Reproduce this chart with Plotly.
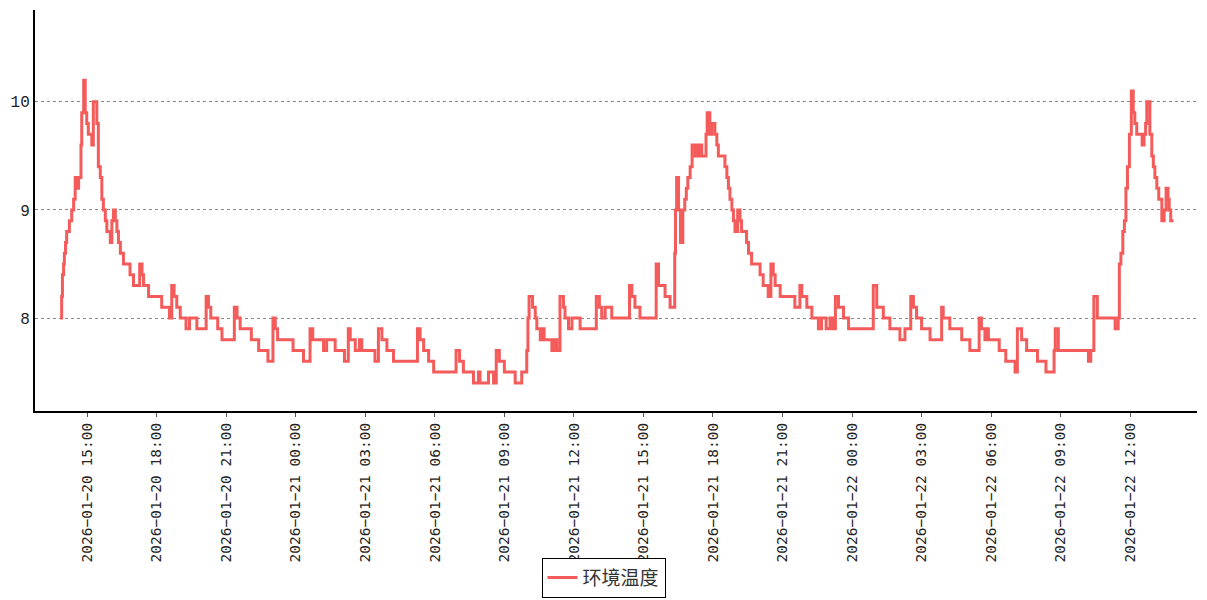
import pandas as pd
import plotly.graph_objects as go

# Time of each change point, minutes relative to 2026-01-20 15:00
offset_min = [
    -70, -66, -64, -61, -59, -56, -53, -46, -40, -35, -31, -27, -22, -16, -14, -9, -5, -1,
    3, 12, 16, 25, 29, 34, 38, 42, 47, 51, 60, 64, 68, 73, 77, 81, 86, 94, 111, 120,
    136, 142, 146, 159, 193, 213, 219, 225, 232, 241, 256, 265, 284, 308, 314, 320,
    338, 349, 381, 388, 396, 425, 444, 468, 481, 487, 493, 533, 560, 577, 584, 612,
    620, 642, 666, 676, 681, 694, 705, 711, 745, 754, 763, 776, 793, 855, 862, 871,
    884, 897, 955, 964, 974, 1000, 1013, 1017, 1039, 1052, 1059, 1067, 1080, 1108,
    1125, 1138, 1141, 1144, 1153, 1160, 1164, 1173, 1177, 1183, 1203, 1209, 1216,
    1224, 1233, 1237, 1246, 1255, 1276, 1318, 1326, 1332, 1341, 1358, 1404, 1410,
    1418, 1431, 1473, 1479, 1496, 1509, 1521, 1523, 1526, 1531, 1536, 1542, 1547,
    1551, 1555, 1561, 1566, 1574, 1578, 1582, 1587, 1591, 1602, 1605, 1612, 1617,
    1625, 1630, 1634, 1651, 1656, 1660, 1664, 1669, 1673, 1677, 1684, 1690, 1694,
    1707, 1712, 1720, 1742, 1750, 1763, 1770, 1776, 1781, 1794, 1832, 1845, 1850,
    1863, 1876, 1893, 1901, 1913, 1923, 1930, 1937, 1945, 1958, 1971, 2035, 2044,
    2061, 2078, 2104, 2117, 2132, 2139, 2147, 2160, 2182, 2212, 2216, 2233, 2264,
    2285, 2309, 2315, 2324, 2328, 2333, 2361, 2378, 2402, 2408, 2419, 2432, 2460,
    2482, 2503, 2506, 2514, 2592, 2598, 2606, 2615, 2661, 2669, 2672, 2676, 2681,
    2685, 2689, 2693, 2698, 2703, 2708, 2712, 2717, 2731, 2736, 2740, 2743, 2751,
    2756, 2760, 2764, 2769, 2774, 2782, 2788, 2793, 2798, 2801, 2805, 2812,
]

temperature = [
    8.0, 8.2, 8.4, 8.5, 8.6, 8.7, 8.8, 8.9, 9.0, 9.1, 9.3, 9.2, 9.3, 9.6, 9.9, 10.2, 9.9, 9.8,
    9.7, 9.6, 10.0, 9.8, 9.4, 9.3, 9.1, 9.0, 8.9, 8.8, 8.7, 8.9, 9.0, 8.9, 8.8, 8.7, 8.6, 8.5, 8.4, 8.3,
    8.5, 8.4, 8.3, 8.2, 8.1, 8.0, 8.3, 8.2, 8.1, 8.0, 7.9, 8.0, 7.9, 8.2, 8.1, 8.0,
    7.9, 7.8, 8.1, 8.0, 7.9, 7.8, 7.7, 7.6, 8.0, 7.9, 7.8, 7.7, 7.6, 7.9, 7.8, 7.7,
    7.8, 7.7, 7.6, 7.9, 7.8, 7.7, 7.8, 7.7, 7.6, 7.9, 7.8, 7.7, 7.6, 7.9, 7.8, 7.7,
    7.6, 7.5, 7.7, 7.6, 7.5, 7.4, 7.5, 7.4, 7.5, 7.4, 7.7, 7.6, 7.5, 7.4,
    7.5, 7.7, 8.0, 8.2, 8.1, 8.0, 7.9, 7.8, 7.9, 7.8, 7.7, 7.8, 7.7,
    8.2, 8.1, 8.0, 7.9, 8.0, 7.9, 8.2, 8.1, 8.0, 8.1, 8.0, 8.3, 8.2,
    8.1, 8.0, 8.5, 8.3, 8.2, 8.1, 8.6, 9.0, 9.3, 9.0, 8.7, 9.0, 9.1,
    9.2, 9.3, 9.4, 9.6, 9.5, 9.6, 9.5, 9.6, 9.5, 9.7, 9.9, 9.7, 9.8,
    9.7, 9.6, 9.5, 9.4, 9.3, 9.2, 9.1, 9.0, 8.9, 8.8, 9.0, 8.9, 8.8,
    8.7, 8.6, 8.5, 8.4, 8.3, 8.2, 8.5, 8.4, 8.3, 8.2, 8.1, 8.3, 8.2,
    8.1, 8.0, 7.9, 8.0, 7.9, 8.0, 7.9, 8.2, 8.1, 8.0, 7.9, 8.3, 8.1,
    8.0, 7.9, 7.8, 7.9, 8.2, 8.1, 8.0, 7.9, 7.8, 8.1, 8.0, 7.9, 7.8,
    7.7, 8.0, 7.9, 7.8, 7.9, 7.8, 7.7, 7.6, 7.5, 7.9, 7.8, 7.7, 7.6,
    7.5, 7.7, 7.9, 7.7, 7.6, 7.7, 8.2, 8.0, 7.9, 8.0, 8.5, 8.6, 8.8,
    8.9, 9.2, 9.4, 9.7, 10.1, 9.9, 9.8, 9.7, 9.6, 9.7, 9.8, 10.0, 9.7,
    9.5, 9.4, 9.3, 9.2, 9.1, 8.9, 9.0, 9.2, 9.1, 9.0, 8.9, 8.9,
]

series_name = "环境温度"
base_time = pd.Timestamp("2026-01-20 15:00")
times = [base_time + pd.Timedelta(minutes=m) for m in offset_min]

tick_times = [
    "2026-01-20 15:00", "2026-01-20 18:00", "2026-01-20 21:00", "2026-01-21 00:00",
    "2026-01-21 03:00", "2026-01-21 06:00", "2026-01-21 09:00", "2026-01-21 12:00",
    "2026-01-21 15:00", "2026-01-21 18:00", "2026-01-21 21:00", "2026-01-22 00:00",
    "2026-01-22 03:00", "2026-01-22 06:00", "2026-01-22 09:00", "2026-01-22 12:00",
]
tick_labels = [t.replace("-", "\u2212") for t in tick_times]

x_range = ["2026-01-20 12:45", "2026-01-22 14:53"]
y_ticks = [8, 9, 10]
y_range = [7.14, 10.85]

fig = go.Figure()
fig.add_trace(go.Scatter(
    x=times, y=temperature, name=series_name, mode="lines",
    line=dict(color="#f45b5b", width=3, shape="hv"),
    showlegend=True,
))

fig.update_layout(
    width=1207, height=600,
    margin=dict(l=35, r=10, t=10, b=189, autoexpand=False),
    paper_bgcolor="white", plot_bgcolor="white",
    showlegend=True,
    legend=dict(
        orientation="h", xref="container", yref="container",
        x=0.5, xanchor="center", y=0.004, yanchor="bottom",
        bordercolor="black", borderwidth=1,
        font=dict(family="Noto Sans CJK SC", size=19, color="#333333"),
        itemwidth=30,
    ),
    xaxis=dict(
        type="date", range=x_range, automargin=False,
        tickmode="array", tickvals=tick_times, ticktext=tick_labels,
        tickangle=-90,
        tickfont=dict(family="DejaVu Sans Mono", size=14.5, color="#222222"),
        showgrid=False, zeroline=False,
        showline=True, linecolor="black", linewidth=2,
        ticks="outside", ticklen=4, tickcolor="#555555",
    ),
    yaxis=dict(
        range=y_range, tickvals=y_ticks, automargin=False,
        tickfont=dict(family="Liberation Mono", size=16, color="#222222"),
        showgrid=True, gridcolor="#888888", griddash="dot", gridwidth=1,
        zeroline=False, showline=True, linecolor="black", linewidth=2,
        ticks="",
    ),
)

fig.write_html(
    "out.html",
    config={"displayModeBar": False},
    post_script="document.body.style.margin='0';document.body.style.overflow='hidden';",
)
